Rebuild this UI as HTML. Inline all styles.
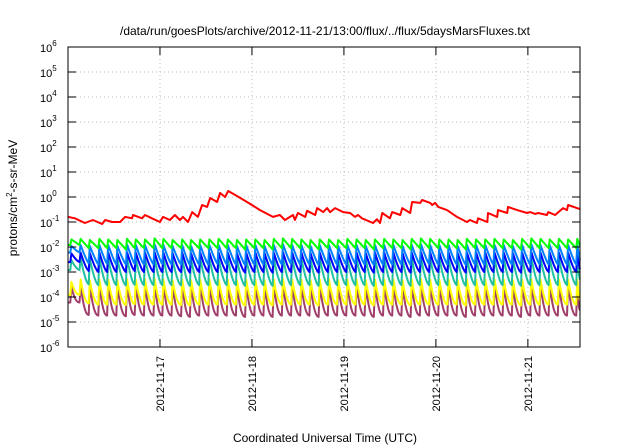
<!DOCTYPE html>
<html><head><meta charset="utf-8"><style>
body{margin:0;background:#fff;}
svg{display:block;font-family:"Liberation Sans",sans-serif;}
</style></head><body>
<svg id="chart" width="640" height="448" viewBox="0 0 640 448" xmlns="http://www.w3.org/2000/svg">
<text x="325" y="35" font-size="12" text-anchor="middle">/data/run/goesPlots/archive/2012-11-21/13:00/flux/../flux/5daysMarsFluxes.txt</text>
<text x="325" y="442" font-size="12" text-anchor="middle">Coordinated Universal Time (UTC)</text>
<text transform="translate(17,198) rotate(-90)" font-size="12" text-anchor="middle">protons/cm<tspan font-size="8" dy="-5">2</tspan><tspan dy="5">-s-sr-MeV</tspan></text>
<g id="grid"></g><g id="series"></g><g id="axes"></g>
</svg>
<script>
const dayLabels=["2012-11-17","2012-11-18","2012-11-19","2012-11-20","2012-11-21"];
const dayHours=[24,48,72,96,120];
const yExps=[-6,-5,-4,-3,-2,-1,0,1,2,3,4,5,6];
const redHours=[0,1.8,4.4,6.5,8.9,9.7,11.5,13.6,14.9,16.7,17.0,19.3,20.1,21.9,24.0,24.8,26.6,27.9,29.2,30.0,31.3,32.4,33.9,35.0,36.3,37.1,38.9,39.7,41.0,41.8,44.1,46.7,50.1,53.5,55.3,56.6,58.7,59.2,60.0,61.9,62.4,64.5,65.0,66.6,67.6,68.4,69.7,71.8,73.6,74.9,75.7,76.7,79.6,80.6,81.4,82.0,84.0,84.6,86.7,87.2,89.3,89.8,91.9,92.4,94.5,95.0,95.8,96.6,98.9,101.5,104.1,104.9,106.7,107.0,109.4,109.6,112.0,112.2,114.6,114.8,117.2,119.8,120.6,121.9,122.7,125.0,125.3,127.1,129.2,130.2,130.5,132.8,133.6];
const redValues=[0.16,0.14,0.091,0.12,0.083,0.12,0.10,0.10,0.16,0.14,0.19,0.14,0.19,0.14,0.10,0.16,0.12,0.19,0.12,0.16,0.10,0.25,0.16,0.48,0.40,0.91,0.63,1.45,1.0,1.74,1.1,0.63,0.30,0.16,0.19,0.12,0.19,0.12,0.23,0.16,0.28,0.19,0.36,0.25,0.36,0.25,0.36,0.25,0.23,0.16,0.19,0.14,0.091,0.13,0.091,0.23,0.14,0.25,0.19,0.36,0.23,0.63,0.58,0.76,0.58,0.48,0.58,0.40,0.30,0.16,0.10,0.12,0.091,0.14,0.10,0.23,0.16,0.30,0.23,0.40,0.30,0.23,0.25,0.21,0.23,0.19,0.25,0.19,0.36,0.30,0.48,0.36,0.33];
const pulseHours=[0.6,3.0,5.4,7.9,10.2,12.6,15.1,17.4,19.8,22.3,24.6,27.0,29.5,31.8,34.2,36.6,39.0,41.4,43.8,46.2,48.6,51.0,53.4,55.8,58.2,60.6,63.0,65.4,67.8,70.2,72.6,75.0,77.4,79.8,82.2,84.6,87.0,89.4,91.8,94.2,96.6,99.0,101.4,103.8,106.2,108.6,111.0,113.4,115.8,118.2,120.6,123.0,125.4,127.8,130.2,132.6];
const greenPeaks=[0.020,0.021,0.019,0.021,0.020,0.019,0.021,0.020,0.020,0.022,0.021,0.019,0.020,0.019,0.020,0.020,0.021,0.020,0.019,0.020,0.020,0.019,0.021,0.022,0.021,0.020,0.019,0.020,0.020,0.019,0.021,0.020,0.019,0.020,0.021,0.020,0.019,0.021,0.022,0.021,0.020,0.020,0.019,0.021,0.020,0.020,0.021,0.020,0.019,0.021,0.022,0.021,0.020,0.021,0.020,0.021];
const greenTroughs=[0.012,0.009,0.009,0.009,0.009,0.008,0.009,0.009,0.009,0.009,0.009,0.009,0.008,0.009,0.009,0.009,0.009,0.009,0.008,0.009,0.009,0.008,0.009,0.009,0.009,0.009,0.008,0.009,0.009,0.009,0.009,0.009,0.008,0.009,0.009,0.009,0.008,0.009,0.009,0.009,0.009,0.009,0.008,0.009,0.009,0.009,0.009,0.009,0.008,0.009,0.009,0.009,0.009,0.009,0.009,0.011];
const lblPeaks=[0.011,0.012,0.011,0.012,0.012,0.011,0.013,0.012,0.012,0.013,0.012,0.011,0.012,0.011,0.012,0.012,0.012,0.012,0.011,0.012,0.012,0.011,0.012,0.013,0.012,0.012,0.011,0.012,0.012,0.011,0.012,0.012,0.011,0.012,0.012,0.012,0.011,0.012,0.013,0.012,0.012,0.012,0.011,0.012,0.012,0.012,0.012,0.012,0.011,0.012,0.013,0.012,0.012,0.012,0.012,0.012];
const lblTroughs=[0.006,0.0022,0.002,0.0021,0.002,0.002,0.0021,0.002,0.002,0.0021,0.002,0.002,0.0019,0.002,0.002,0.0021,0.002,0.002,0.0019,0.002,0.002,0.0019,0.002,0.0021,0.002,0.002,0.0019,0.002,0.002,0.002,0.0021,0.002,0.0019,0.002,0.002,0.002,0.0019,0.002,0.0021,0.002,0.002,0.002,0.0019,0.002,0.002,0.002,0.0021,0.002,0.0019,0.002,0.0021,0.002,0.002,0.002,0.002,0.003];
const bluePeaks=[0.0055,0.006,0.0058,0.006,0.006,0.0057,0.0062,0.006,0.006,0.0063,0.006,0.0057,0.006,0.0057,0.006,0.006,0.006,0.006,0.0057,0.006,0.006,0.0057,0.006,0.0063,0.006,0.006,0.0057,0.006,0.006,0.0057,0.006,0.006,0.0057,0.006,0.006,0.006,0.0057,0.006,0.0063,0.006,0.006,0.006,0.0057,0.006,0.006,0.006,0.006,0.006,0.0057,0.006,0.0063,0.006,0.006,0.006,0.006,0.006];
const blueTroughs=[0.0025,0.0011,0.001,0.001,0.001,0.001,0.0011,0.001,0.001,0.001,0.001,0.001,0.00095,0.001,0.001,0.001,0.001,0.001,0.00095,0.001,0.001,0.00095,0.001,0.001,0.001,0.001,0.00095,0.001,0.001,0.001,0.001,0.001,0.00095,0.001,0.001,0.001,0.00095,0.001,0.001,0.001,0.001,0.001,0.00095,0.001,0.001,0.001,0.001,0.001,0.00095,0.001,0.001,0.001,0.001,0.001,0.001,0.0013];
const tealPeaks=[0.0030,0.0036,0.0034,0.0036,0.0035,0.0033,0.0037,0.0035,0.0035,0.0038,0.0036,0.0033,0.0035,0.0033,0.0035,0.0035,0.0036,0.0035,0.0033,0.0035,0.0035,0.0033,0.0036,0.0038,0.0036,0.0035,0.0033,0.0035,0.0035,0.0033,0.0036,0.0035,0.0033,0.0035,0.0036,0.0035,0.0033,0.0036,0.0038,0.0036,0.0035,0.0035,0.0033,0.0036,0.0035,0.0035,0.0036,0.0035,0.0033,0.0036,0.0038,0.0036,0.0035,0.0036,0.0035,0.0036];
const tealTroughs=[0.0012,0.00032,0.0003,0.0003,0.0003,0.00029,0.00031,0.0003,0.0003,0.0003,0.0003,0.00029,0.00028,0.0003,0.0003,0.0003,0.0003,0.0003,0.00028,0.0003,0.0003,0.00028,0.0003,0.0003,0.0003,0.0003,0.00028,0.0003,0.0003,0.0003,0.0003,0.0003,0.00028,0.0003,0.0003,0.0003,0.00028,0.0003,0.0003,0.0003,0.0003,0.0003,0.00028,0.0003,0.0003,0.0003,0.0003,0.0003,0.00028,0.0003,0.0003,0.0003,0.0003,0.0003,0.0003,0.0005];
const yellowPeaks=[0.0004,0.0005,0.00048,0.0005,0.0005,0.00047,0.00052,0.0005,0.0005,0.00053,0.0005,0.00047,0.0005,0.00047,0.0005,0.0005,0.0005,0.0005,0.00047,0.0005,0.0005,0.00047,0.0005,0.00053,0.0005,0.0005,0.00047,0.0005,0.0005,0.00047,0.0005,0.0005,0.00047,0.0005,0.0005,0.0005,0.00047,0.0005,0.00053,0.0005,0.0005,0.0005,0.00047,0.0005,0.0005,0.0005,0.0005,0.0005,0.00047,0.0005,0.00053,0.0005,0.0005,0.0005,0.0005,0.0005];
const yellowTroughs=[0.00012,0.000055,0.00005,0.00005,0.00005,0.000048,0.000052,0.00005,0.00005,0.00005,0.00005,0.000048,0.000046,0.00005,0.00005,0.00005,0.00005,0.00005,0.000046,0.00005,0.00005,0.000046,0.00005,0.00005,0.00005,0.00005,0.000046,0.00005,0.00005,0.00005,0.00005,0.00005,0.000046,0.00005,0.00005,0.00005,0.000046,0.00005,0.00005,0.00005,0.00005,0.00005,0.000046,0.00005,0.00005,0.00005,0.00005,0.00005,0.000046,0.00005,0.00005,0.00005,0.00005,0.00005,0.00005,0.00008];
const purplePeaks=[0.00025,0.0003,0.00029,0.0003,0.0003,0.00028,0.00032,0.0003,0.0003,0.00033,0.0003,0.00028,0.0003,0.00028,0.0003,0.0003,0.0003,0.0003,0.00028,0.0003,0.0003,0.00028,0.0003,0.00033,0.0003,0.0003,0.00028,0.0003,0.0003,0.00028,0.0003,0.0003,0.00028,0.0003,0.0003,0.0003,0.00028,0.0003,0.00033,0.0003,0.0003,0.0003,0.00028,0.0003,0.0003,0.0003,0.0003,0.0003,0.00028,0.0003,0.00033,0.0003,0.0003,0.0003,0.0003,0.0003];
const purpleTroughs=[0.00006,0.000019,0.000018,0.000018,0.000018,0.000017,0.000019,0.000018,0.000018,0.000018,0.000018,0.000017,0.000016,0.000018,0.000018,0.000018,0.000018,0.000018,0.000016,0.000018,0.000018,0.000016,0.000018,0.000018,0.000018,0.000018,0.000016,0.000018,0.000018,0.000018,0.000018,0.000018,0.000016,0.000018,0.000018,0.000018,0.000016,0.000018,0.000018,0.000018,0.000018,0.000018,0.000016,0.000018,0.000018,0.000018,0.000018,0.000018,0.000016,0.000018,0.000018,0.000018,0.000018,0.000018,0.000018,0.00003];

const L=68,R=580,T=47,B=347,HMAX=133.6;
const NS="http://www.w3.org/2000/svg";
function xs(h){return L+(h/HMAX)*(R-L);}
function ys(v){return T+(6-Math.log10(v))/12*(B-T);}
function mk(tag,parent,attrs){const e=document.createElementNS(NS,tag);for(const k in attrs)e.setAttribute(k,attrs[k]);parent.appendChild(e);return e;}
const grid=document.getElementById('grid'),axes=document.getElementById('axes'),ser=document.getElementById('series');
yExps.forEach(function(e){
  const y=ys(Math.pow(10,e));
  if(e>-6&&e<6){const g=mk('line',grid,{x1:L,x2:R,y1:y,y2:y,stroke:'#bbb','stroke-dasharray':'1,3','stroke-width':1});
  
  }
  mk('line',axes,{x1:L,x2:L+8,y1:y,y2:y,stroke:'#000'});
  mk('line',axes,{x1:R-8,x2:R,y1:y,y2:y,stroke:'#000'});
  const t=mk('text',axes,{x:59,y:y+5,'font-size':11,'text-anchor':'end'});
  
  
  t.innerHTML='10<tspan font-size="8" dy="-6">'+e+'</tspan>';
  t.setAttribute('x',40);t.setAttribute('text-anchor','start');
});
dayHours.forEach(function(h,i){
  const x=xs(h);
  const g=mk('line',grid,{x1:x,x2:x,y1:T,y2:B,stroke:'#bbb','stroke-dasharray':'1,3','stroke-width':1});
  
  
  mk('line',axes,{x1:x,x2:x,y1:B,y2:B-8,stroke:'#000'});
  mk('line',axes,{x1:x,x2:x,y1:T,y2:T+8,stroke:'#000'});
  const t=mk('text',axes,{transform:'translate('+(x+4)+',356) rotate(-90)','font-size':11,'text-anchor':'end'});
  
  
  t.textContent=dayLabels[i];
});
const frame=mk('rect',axes,{x:L,y:T,width:R-L,height:B-T,fill:'none',stroke:'#000','stroke-width':1});


function sawPath(peaks,troughs,curv){
  let pts=[];
  for(let i=0;i<pulseHours.length;i++){
    const t0=pulseHours[i],t1=(i+1<pulseHours.length)?pulseHours[i+1]:HMAX;
    if(i===0)pts.push([0,troughs[0]]);
    pts.push([t0,troughs[Math.max(i-1,0)]]);
    const lp=Math.log10(peaks[i]),lt=Math.log10(troughs[i]);
    const tp=t0+0.3;
    for(let k=0;k<=6;k++){const s=k/6;const tt=tp+(t1-tp)*s;if(tt>HMAX)break;
      pts.push([tt,Math.pow(10,lt+(lp-lt)*Math.pow(1-s,curv))]);}
  }
  return pts.map(function(p,j){return (j?'L':'M')+xs(Math.min(p[0],HMAX)).toFixed(1)+','+ys(p[1]).toFixed(1);}).join('');
}
const seriesDefs=[
 ['purple-series',purplePeaks,purpleTroughs,'#a0406a',2.2],
 ['yellow-series',yellowPeaks,yellowTroughs,'#ffff00',2],
 ['teal-series',tealPeaks,tealTroughs,'#20c0a0',1.6],
 ['blue-series',bluePeaks,blueTroughs,'#0000ff',1.4],
 ['lightblue-series',lblPeaks,lblTroughs,'#0080ff',1.2],
 ['green-series',greenPeaks,greenTroughs,'#00ff00',1]
];
seriesDefs.forEach(function(d){
  const p=mk('path',ser,{d:sawPath(d[1],d[2],d[4]),fill:'none',stroke:d[3],'stroke-width':2,'stroke-linejoin':'round'});
  
  
});
const rd=redHours.map(function(h,i){return (i?'L':'M')+xs(h).toFixed(1)+','+ys(redValues[i]).toFixed(1);}).join('');
const rp=mk('path',ser,{d:rd,fill:'none',stroke:'#ff0000','stroke-width':2,'stroke-linejoin':'round'});


</script>
</body></html>
